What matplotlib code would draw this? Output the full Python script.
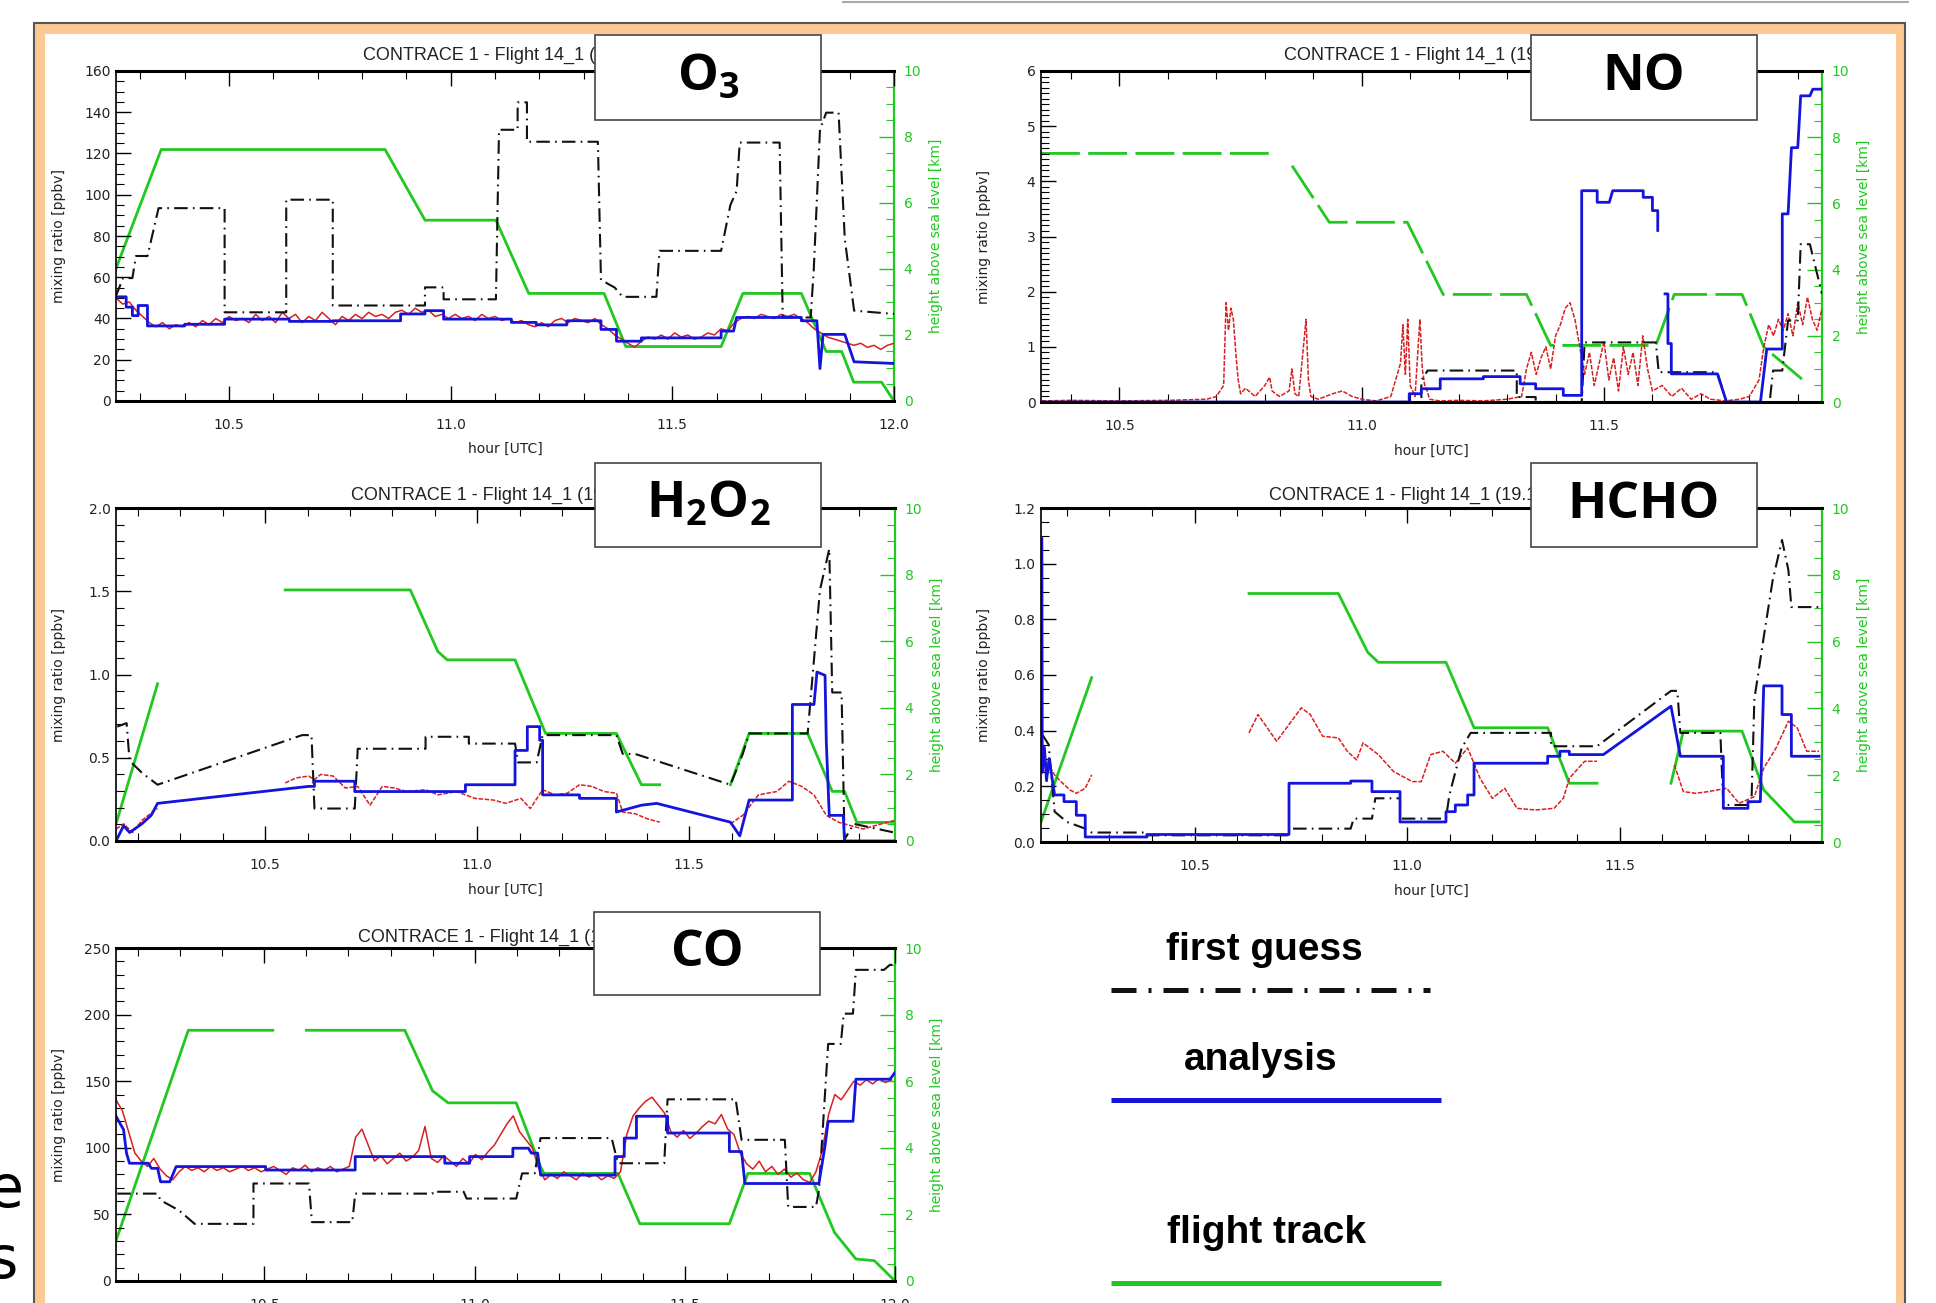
import numpy as np
import matplotlib.pyplot as plt
from matplotlib.lines import Line2D
from matplotlib.patches import Rectangle
from matplotlib.ticker import MultipleLocator, FormatStrFormatter

W, H = 1936, 1303

FG_COLOR = '#111111'
AN_COLOR = '#1414dc'
OBS_COLOR = '#d82020'
TRK_COLOR = '#20c820'

TITLE = 'CONTRACE 1 - Flight 14_1 (19.11.2001)'

# ---------------- O3 ----------------
o3_fg = [(10.244, 50.5), (10.261, 59.6), (10.282, 59.6), (10.29, 70.3), (10.316, 70.3), (10.341, 93.5),
         (10.49, 93.5), (10.49, 43.0), (10.629, 43.0), (10.629, 97.6), (10.734, 97.6), (10.734, 46.3),
         (10.942, 46.3), (10.942, 55.1), (10.984, 55.1), (10.984, 49.3), (11.102, 49.3), (11.109, 131.5),
         (11.151, 131.5), (11.151, 144.8), (11.172, 144.8), (11.172, 125.7), (11.332, 125.7), (11.339, 58.7),
         (11.37, 55.0), (11.388, 50.5), (11.464, 50.5), (11.471, 72.8), (11.61, 72.8), (11.631, 95.1),
         (11.645, 101.8), (11.652, 125.3), (11.742, 125.3), (11.749, 40.5), (11.812, 40.5), (11.819, 63.7),
         (11.833, 131.5), (11.847, 139.8), (11.875, 139.8), (11.889, 78.6), (11.91, 43.8), (12.0, 42.2)]
o3_an = [(10.244, 50.5), (10.268, 50.5), (10.268, 45.5), (10.282, 45.5), (10.282, 41.4), (10.295, 41.4),
         (10.295, 46.3), (10.316, 46.3), (10.316, 36.4), (10.4, 36.4), (10.4, 37.2), (10.49, 37.2),
         (10.49, 39.7), (10.636, 39.7), (10.636, 38.6), (10.734, 38.6), (10.734, 38.9), (10.887, 38.9),
         (10.887, 42.2), (10.942, 42.2), (10.942, 43.8), (10.984, 43.8), (10.984, 39.7), (11.137, 39.7),
         (11.137, 38.1), (11.193, 38.1), (11.193, 36.9), (11.262, 36.9), (11.262, 38.9), (11.339, 38.9),
         (11.339, 34.7), (11.374, 34.7), (11.374, 29.0), (11.43, 29.0), (11.43, 30.6), (11.61, 30.6),
         (11.61, 33.9), (11.638, 33.9), (11.645, 40.5), (11.791, 40.5), (11.791, 38.9), (11.826, 38.9),
         (11.833, 15.7), (11.84, 32.3), (11.889, 32.3), (11.91, 19.0), (12.0, 18.2)]
o3_trk = [(10.244, 3.98), (10.347, 7.62), (10.852, 7.62), (10.942, 5.48), (11.102, 5.48), (11.176, 3.26),
          (11.346, 3.26), (11.395, 1.65), (11.61, 1.65), (11.659, 3.26), (11.791, 3.26), (11.847, 1.5),
          (11.882, 1.5), (11.909, 0.57), (11.972, 0.57), (12.0, 0.0)]
o3_obs_t0, o3_obs_dt = 10.245, 0.015
o3_obs = [50, 47, 48, 44, 41, 38, 36, 38, 35, 37, 36, 38, 36, 39, 37, 40, 38, 41, 39, 40,
          38, 42, 39, 41, 38, 43, 40, 42, 38, 41, 39, 43, 40, 37, 41, 39, 42, 40, 43, 41,
          42, 40, 43, 44, 42, 45, 43, 44, 41, 42, 40, 42, 40, 41, 39, 42, 40, 41, 39, 40,
          38, 39, 37, 36, 38, 36, 39, 40, 38, 40, 39, 38, 40, 37, 35, 32, 30, 28, 26, 29,
          31, 30, 32, 30, 33, 31, 32, 30, 31, 33, 32, 35, 34, 38, 40, 41, 40, 42, 41, 40,
          42, 41, 42, 40, 38, 35, 33, 31, 30, 29, 28, 27, 28, 26, 27, 25, 27, 28]

# ---------------- NO ----------------
no_fg = [(10.338, 0.0), (11.123, 0.0), (11.123, 0.39), (11.136, 0.57), (11.32, 0.57), (11.32, 0.09),
         (11.359, 0.09), (11.359, 0.0), (11.454, 0.0), (11.46, 1.08), (11.607, 1.08), (11.613, 0.54),
         (11.734, 0.54), (11.753, 0.0), (11.842, 0.0), (11.849, 0.57), (11.868, 0.57), (11.88, 1.48),
         (11.9, 1.48), (11.906, 2.86), (11.925, 2.86), (11.95, 1.96)]
no_an = [(10.338, 0.0), (11.098, 0.0), (11.098, 0.15), (11.123, 0.15), (11.123, 0.24), (11.162, 0.24),
         (11.162, 0.42), (11.251, 0.42), (11.251, 0.46), (11.327, 0.46), (11.327, 0.33), (11.359, 0.33),
         (11.359, 0.24), (11.416, 0.24), (11.416, 0.12), (11.454, 0.12), (11.454, 3.83), (11.486, 3.83),
         (11.486, 3.62), (11.511, 3.62), (11.518, 3.83), (11.581, 3.83), (11.581, 3.71), (11.6, 3.71),
         (11.6, 3.47), (11.611, 3.47), (11.611, 3.11), None, (11.626, 1.96), (11.632, 1.96),
         (11.632, 1.06), (11.639, 1.06), (11.639, 0.51), (11.734, 0.51), (11.753, 0.0), (11.823, 0.0),
         (11.836, 0.96), (11.868, 0.96), (11.868, 3.41), (11.88, 3.41), (11.887, 4.61), (11.9, 4.61),
         (11.906, 5.55), (11.925, 5.55), (11.931, 5.67), (11.95, 5.67)]
no_trk = [(10.338, 7.51), (10.824, 7.51), None, (10.856, 7.14), (10.933, 5.43), (11.094, 5.43),
          (11.168, 3.25), (11.34, 3.25), (11.39, 1.71), (11.607, 1.71), (11.645, 3.25), (11.785, 3.25),
          (11.83, 1.66), (11.912, 0.65)]
no_obs = [(10.34, 0.02), (10.40, 0.03), (10.50, 0.02), (10.60, 0.03), (10.68, 0.05), (10.70, 0.1),
          (10.715, 0.3), (10.72, 1.8), (10.725, 1.3), (10.73, 1.7), (10.735, 1.5), (10.74, 0.9),
          (10.745, 0.4), (10.75, 0.15), (10.76, 0.25), (10.78, 0.1), (10.80, 0.3), (10.81, 0.45),
          (10.815, 0.2), (10.83, 0.1), (10.85, 0.2), (10.856, 0.6), (10.862, 0.15), (10.87, 0.1),
          (10.885, 1.5), (10.89, 0.4), (10.895, 0.1), (10.91, 0.05), (10.94, 0.15), (10.96, 0.2),
          (10.98, 0.1), (11.0, 0.05), (11.03, 0.02), (11.06, 0.1), (11.08, 0.7), (11.085, 1.4),
          (11.09, 0.5), (11.095, 1.5), (11.10, 0.3), (11.11, 0.1), (11.12, 1.5), (11.125, 0.6),
          (11.13, 0.3), (11.135, 0.2), (11.14, 0.05), (11.16, 0.02), (11.2, 0.03), (11.25, 0.02),
          (11.3, 0.05), (11.33, 0.1), (11.34, 0.6), (11.35, 0.9), (11.355, 0.7), (11.36, 0.5),
          (11.37, 0.8), (11.38, 1.0), (11.39, 0.6), (11.40, 1.2), (11.41, 1.4), (11.42, 1.7),
          (11.43, 1.8), (11.44, 1.5), (11.45, 1.0), (11.46, 0.5), (11.47, 0.9), (11.48, 0.3),
          (11.49, 0.7), (11.50, 1.1), (11.51, 0.4), (11.52, 0.8), (11.53, 0.2), (11.54, 1.0),
          (11.55, 0.5), (11.56, 0.9), (11.57, 0.3), (11.58, 1.2), (11.59, 0.6), (11.60, 0.2),
          (11.62, 0.3), (11.64, 0.1), (11.66, 0.25), (11.68, 0.05), (11.70, 0.15), (11.72, 0.05),
          (11.75, 0.02), (11.78, 0.05), (11.80, 0.1), (11.82, 0.4), (11.83, 1.0), (11.84, 1.4),
          (11.85, 1.2), (11.86, 1.5), (11.87, 1.3), (11.88, 1.6), (11.89, 1.2), (11.90, 1.8),
          (11.91, 1.4), (11.92, 1.9), (11.93, 1.5), (11.94, 1.3), (11.95, 1.7)]

# ---------------- H2O2 ----------------
h2o2_fg = [(10.151, 0.687), (10.173, 0.708), (10.18, 0.482), (10.209, 0.41), (10.246, 0.338),
           (10.587, 0.636), (10.609, 0.636), (10.616, 0.195), (10.711, 0.195), (10.718, 0.554),
           (10.878, 0.554), (10.878, 0.626), (10.98, 0.626), (10.98, 0.585), (11.089, 0.585),
           (11.096, 0.472), (11.14, 0.472), (11.154, 0.636), (11.328, 0.636), (11.343, 0.523),
           (11.372, 0.523), (11.597, 0.338), (11.626, 0.523), (11.641, 0.646), (11.779, 0.646),
           (11.808, 1.507), (11.83, 1.754), (11.837, 0.892), (11.859, 0.892), (11.866, 0.01),
           (11.888, 0.103), (11.983, 0.051)]
h2o2_an = [(10.148, 0.0), (10.166, 0.092), (10.18, 0.051), (10.209, 0.103), (10.231, 0.154),
           (10.246, 0.226), (10.602, 0.328), (10.616, 0.328), (10.616, 0.359), (10.711, 0.359),
           (10.711, 0.297), (10.972, 0.297), (10.972, 0.338), (11.089, 0.338), (11.089, 0.544),
           (11.118, 0.544), (11.118, 0.687), (11.147, 0.687), (11.147, 0.605), (11.154, 0.605),
           (11.154, 0.277), (11.241, 0.277), (11.241, 0.256), (11.328, 0.256), (11.328, 0.174),
           (11.387, 0.215), (11.423, 0.226), (11.597, 0.113), (11.619, 0.031), (11.641, 0.246),
           (11.743, 0.246), (11.743, 0.82), (11.794, 0.82), (11.801, 1.015), (11.82, 0.995),
           (11.823, 0.595), (11.83, 0.154), (11.863, 0.154), (11.866, 0.0), (11.983, 0.0)]
h2o2_trk = [(10.148, 0.51), (10.246, 4.72), None, (10.547, 7.54), (10.842, 7.54), (10.907, 5.69),
            (10.929, 5.44), (11.089, 5.44), (11.161, 3.23), (11.328, 3.23), (11.387, 1.69),
            (11.43, 1.69), None, (11.597, 1.69), (11.641, 3.23), (11.779, 3.23), (11.837, 1.49),
            (11.866, 1.49), (11.895, 0.56), (11.983, 0.56)]
h2o2_obs = [(10.148, 0.072), (10.166, 0.103), (10.187, 0.051), (10.209, 0.123), (10.224, 0.154),
            (10.246, 0.195), None, (10.547, 0.349), (10.573, 0.379), (10.602, 0.39), (10.616, 0.369),
            (10.631, 0.40), (10.66, 0.39), (10.689, 0.318), (10.718, 0.328), (10.747, 0.215),
            (10.776, 0.328), (10.805, 0.318), (10.834, 0.297), (10.878, 0.308), (10.907, 0.277),
            (10.951, 0.297), (10.994, 0.256), (11.038, 0.246), (11.067, 0.226), (11.103, 0.256),
            (11.125, 0.195), (11.154, 0.308), (11.183, 0.277), (11.212, 0.287), (11.241, 0.338),
            (11.27, 0.328), (11.299, 0.297), (11.328, 0.287), (11.343, 0.174), (11.372, 0.164),
            (11.401, 0.133), (11.43, 0.113), None, (11.597, 0.103), (11.626, 0.154), (11.663, 0.277),
            (11.706, 0.297), (11.735, 0.359), (11.765, 0.328), (11.794, 0.277), (11.823, 0.154),
            (11.852, 0.113), (11.881, 0.092), (11.91, 0.072), (11.953, 0.103), (11.983, 0.123)]

# ---------------- HCHO ----------------
hcho_fg = [(10.142, 0.386), (10.157, 0.35), (10.171, 0.109), (10.2, 0.072), (10.243, 0.048),
           (10.258, 0.034), (10.388, 0.034), (10.388, 0.024), (10.722, 0.024), (10.722, 0.048),
           (10.867, 0.048), (10.874, 0.084), (10.917, 0.084), (10.925, 0.157), (10.983, 0.157),
           (10.983, 0.084), (11.091, 0.084), (11.099, 0.169), (11.128, 0.338), (11.149, 0.392),
           (11.338, 0.392), (11.338, 0.344), (11.446, 0.344), (11.62, 0.543), (11.635, 0.543),
           (11.642, 0.392), (11.736, 0.392), (11.743, 0.133), (11.809, 0.133), (11.816, 0.513),
           (11.838, 0.736), (11.859, 0.94), (11.881, 1.085), (11.896, 0.977), (11.903, 0.844),
           (11.968, 0.844)]
hcho_an = [(10.141, 1.09), (10.142, 0.25), (10.147, 0.34), (10.152, 0.22), (10.158, 0.30),
           (10.171, 0.169), (10.193, 0.169), (10.193, 0.145), (10.222, 0.145), (10.222, 0.096),
           (10.243, 0.096), (10.243, 0.018), (10.388, 0.018), (10.388, 0.027), (10.722, 0.027),
           (10.722, 0.211), (10.867, 0.211), (10.867, 0.219), (10.917, 0.219), (10.917, 0.181),
           (10.983, 0.181), (10.983, 0.072), (11.091, 0.072), (11.091, 0.109), (11.113, 0.109),
           (11.113, 0.133), (11.142, 0.133), (11.142, 0.169), (11.157, 0.169), (11.157, 0.283),
           (11.33, 0.283), (11.33, 0.308), (11.359, 0.308), (11.359, 0.326), (11.381, 0.326),
           (11.381, 0.314), (11.461, 0.314), (11.62, 0.488), (11.642, 0.308), (11.743, 0.308),
           (11.743, 0.121), (11.801, 0.121), (11.801, 0.145), (11.83, 0.145), (11.838, 0.561),
           (11.881, 0.561), (11.881, 0.458), (11.903, 0.458), (11.903, 0.308), (11.968, 0.308)]
hcho_trk = [(10.139, 0.6), (10.258, 4.92), None, (10.628, 7.44), (10.838, 7.44), (10.907, 5.68),
            (10.932, 5.38), (11.091, 5.38), (11.157, 3.42), (11.33, 3.42), (11.381, 1.76),
            (11.446, 1.76), None, (11.62, 1.76), (11.649, 3.32), (11.787, 3.32), (11.838, 1.56),
            (11.91, 0.6), (11.968, 0.6)]
hcho_obs = [(10.139, 0.30), (10.157, 0.277), (10.171, 0.241), (10.186, 0.217), (10.207, 0.187),
            (10.222, 0.175), (10.243, 0.193), (10.258, 0.241), None, (10.628, 0.392), (10.649, 0.458),
            (10.671, 0.41), (10.693, 0.362), (10.722, 0.422), (10.751, 0.482), (10.772, 0.458),
            (10.801, 0.38), (10.838, 0.374), (10.859, 0.326), (10.881, 0.295), (10.896, 0.356),
            (10.932, 0.314), (10.968, 0.253), (11.012, 0.217), (11.033, 0.217), (11.055, 0.314),
            (11.084, 0.326), (11.113, 0.283), (11.142, 0.338), (11.171, 0.229), (11.2, 0.157),
            (11.229, 0.193), (11.258, 0.121), (11.301, 0.115), (11.345, 0.121), (11.367, 0.157),
            (11.381, 0.229), (11.417, 0.29), (11.446, 0.29), None, (11.628, 0.277), (11.649, 0.181),
            (11.678, 0.175), (11.707, 0.181), (11.751, 0.193), (11.78, 0.139), (11.816, 0.163),
            (11.838, 0.265), (11.867, 0.338), (11.896, 0.434), (11.917, 0.41), (11.939, 0.326),
            (11.968, 0.326)]

# ---------------- CO ----------------
co_fg = [(10.15, 65.6), (10.246, 65.6), (10.253, 60.6), (10.297, 53.0), (10.334, 42.9), (10.474, 42.9),
         (10.474, 73.2), (10.606, 73.2), (10.613, 44.2), (10.709, 44.2), (10.716, 65.6), (10.9, 65.6),
         (10.9, 67.0), (10.974, 67.0), (10.981, 61.9), (11.099, 61.9), (11.113, 80.8), (11.143, 80.8),
         (11.157, 107.3), (11.326, 107.3), (11.341, 88.4), (11.451, 88.4), (11.459, 136.4),
         (11.621, 136.4), (11.635, 106.0), (11.738, 106.0), (11.746, 55.6), (11.812, 55.6),
         (11.819, 68.2), (11.841, 178.0), (11.871, 178.0), (11.878, 200.7), (11.9, 200.7),
         (11.907, 233.6), (11.974, 233.6), (11.988, 237.4), (12.0, 237.4)]
co_an = [(10.147, 123.7), (10.165, 113.6), (10.172, 96.0), (10.179, 88.4), (10.224, 88.4), (10.231, 84.6),
         (10.246, 84.6), (10.253, 74.5), (10.275, 74.5), (10.29, 85.9), (10.503, 85.9), (10.503, 83.3),
         (10.716, 83.3), (10.716, 93.4), (10.929, 93.4), (10.929, 88.4), (10.988, 88.4), (10.988, 93.4),
         (11.091, 93.4), (11.091, 99.7), (11.128, 99.7), (11.135, 96.0), (11.15, 96.0), (11.157, 79.5),
         (11.334, 79.5), (11.334, 93.4), (11.356, 93.4), (11.356, 107.3), (11.385, 107.3),
         (11.385, 123.7), (11.459, 123.7), (11.459, 111.1), (11.606, 111.1), (11.606, 97.2),
         (11.635, 97.2), (11.643, 73.2), (11.819, 73.2), (11.834, 102.3), (11.841, 119.9),
         (11.9, 119.9), (11.907, 151.5), (11.988, 151.5), (12.0, 156.5)]
co_trk = [(10.147, 1.21), (10.319, 7.53), (10.52, 7.53), None, (10.56, 7.53), None, (10.60, 7.53),
          (10.834, 7.53), (10.9, 5.71), (10.937, 5.35), (11.099, 5.35), (11.157, 3.43), (11.165, 3.23),
          (11.341, 3.23), (11.393, 1.72), (11.606, 1.72), (11.65, 3.23), (11.797, 3.23), (11.856, 1.46),
          (11.907, 0.66), (11.951, 0.61), (12.0, 0.0)]
co_obs_t0, co_obs_dt = 10.147, 0.015
co_obs = [136, 128, 112, 96, 90, 86, 92, 84, 79, 76, 82, 86, 83, 85, 82, 86, 83, 85, 82, 84,
          86, 83, 85, 82, 84, 86, 83, 80, 85, 83, 87, 82, 85, 83, 86, 82, 84, 86, 108, 114,
          102, 90, 94, 88, 92, 96, 90, 93, 98, 116, 92, 89, 94, 90, 86, 92, 88, 95, 91, 97,
          102, 110, 118, 124, 112, 106, 100, 85, 76, 80, 77, 82, 79, 76, 81, 78, 80, 76, 79, 77,
          82, 110, 124, 130, 135, 138, 132, 126, 112, 108, 113, 107, 111, 116, 120, 118, 125, 114, 110, 96,
          88, 84, 90, 82, 86, 80, 84, 78, 81, 76, 74, 82, 98, 125, 140, 136, 143, 150, 147, 151,
          148, 152, 149, 151]


def split(pairs):
    t = np.array([np.nan if p is None else p[0] for p in pairs], float)
    v = np.array([np.nan if p is None else p[1] for p in pairs], float)
    return t, v


def frect(l, t, r, b):
    return [l / W, 1 - b / H, (r - l) / W, (b - t) / H]


fig = plt.figure(figsize=(W / 100, H / 100), dpi=100)
fig.patch.set_facecolor('white')

# slide frame
frame = Rectangle((34 / W, -0.05), (1905 - 34) / W, 1.05 - 23 / H, transform=fig.transFigure,
                  facecolor='#fcc894', edgecolor='#555555', lw=1.5, zorder=-3)
inner = Rectangle((45 / W, -0.05), (1896 - 45) / W, 1.05 - 34 / H, transform=fig.transFigure,
                  facecolor='white', edgecolor='none', zorder=-2)
fig.add_artist(frame)
fig.add_artist(inner)
fig.add_artist(Line2D([843 / W, 1908 / W], [1 - 2 / H, 1 - 2 / H], color='#aaaaaa', lw=1.5,
                      transform=fig.transFigure))
fig.text(-12 / W, 1 - 1207 / H, 'e', fontsize=42, color='black', ha='left', va='baseline')
fig.text(-12 / W, 1 - 1278 / H, 's', fontsize=42, color='black', ha='left', va='baseline')


def panel(rect, fg, an, obs_t, obs_v, trk, xlim, ylim, ymaj, ymin, yfmt,
          obs_ls='-', trk_ls='-', title_xy=(0, 0), label='', box=(0, 0, 0, 0)):
    ax = fig.add_axes(rect)
    ax2 = ax.twinx()
    ax.set_zorder(ax2.get_zorder() + 1)
    ax.patch.set_visible(False)

    t, v = split(trk)
    ax2.plot(t, v, color=TRK_COLOR, lw=2.0, ls=trk_ls)
    ax.plot(obs_t, obs_v, color=OBS_COLOR, lw=1.1, ls=obs_ls)
    t, v = split(fg)
    ax.plot(t, v, color=FG_COLOR, lw=1.5, ls=(0, (6.5, 2.5, 0.8, 2.5)))
    t, v = split(an)
    ax.plot(t, v, color=AN_COLOR, lw=2.0)

    ax.set_xlim(*xlim)
    ax.set_ylim(*ylim)
    ax2.set_ylim(0, 10)

    ax.xaxis.set_major_locator(MultipleLocator(0.5))
    ax.xaxis.set_minor_locator(MultipleLocator(0.1))
    ax.xaxis.set_major_formatter(FormatStrFormatter('%.1f'))
    ax.yaxis.set_major_locator(MultipleLocator(ymaj))
    ax.yaxis.set_minor_locator(MultipleLocator(ymin))
    ax.yaxis.set_major_formatter(FormatStrFormatter(yfmt))
    ax2.yaxis.set_major_locator(MultipleLocator(2))
    ax2.yaxis.set_minor_locator(MultipleLocator(0.5))

    ax.tick_params(which='both', direction='in', top=True, right=False,
                   labelsize=10, labelcolor='#222222')
    ax.tick_params(which='major', length=11, width=1.0)
    ax.tick_params(which='minor', length=5.5, width=0.8)
    ax.tick_params(axis='x', pad=12)
    ax.tick_params(axis='y', pad=4)
    ax2.tick_params(which='both', direction='in', colors=TRK_COLOR, labelsize=10, pad=7)
    ax2.tick_params(which='major', length=11, width=1.0)
    ax2.tick_params(which='minor', length=5.5, width=0.8)

    ax.spines['top'].set_linewidth(2.2)
    ax.spines['bottom'].set_linewidth(2.2)
    ax.spines['left'].set_linewidth(1.2)
    ax.spines['right'].set_visible(False)
    for s in ('top', 'bottom', 'left'):
        ax2.spines[s].set_visible(False)
    ax2.spines['right'].set_color(TRK_COLOR)
    ax2.spines['right'].set_linewidth(1.6)

    ax.set_xlabel('hour [UTC]', fontsize=10, color='#222222')
    ax.xaxis.set_label_coords(0.5, -0.125)
    ax.set_ylabel('mixing ratio [ppbv]', fontsize=10, color='#222222')
    ax.yaxis.set_label_coords(-0.064, 0.5)
    ax2.set_ylabel('height above sea level [km]', fontsize=10, color=TRK_COLOR)
    ax2.yaxis.set_label_coords(1.045, 0.5)

    fig.text(title_xy[0] / W, 1 - title_xy[1] / H, TITLE, family='Liberation Sans',
             fontsize=13, color='#222222', ha='left', va='baseline')
    l, t_, r, b = box
    fig.add_artist(Rectangle((l / W, 1 - b / H), (r - l) / W, (b - t_) / H, transform=fig.transFigure,
                             facecolor='white', edgecolor='#444444', lw=1.2, zorder=5))
    fig.text((l + r) / 2 / W, 1 - (t_ + b) / 2 / H, label, family='Open Sans', fontweight='bold',
             fontsize=37, color='black', ha='center', va='center', zorder=6)
    return ax


o3_t = o3_obs_t0 + o3_obs_dt * np.arange(len(o3_obs))
co_t = co_obs_t0 + co_obs_dt * np.arange(len(co_obs))
no_t, no_v = split(no_obs)
h2o2_t, h2o2_v = split(h2o2_obs)
hcho_t, hcho_v = split(hcho_obs)

panel(frect(116, 71, 894, 401), o3_fg, o3_an, o3_t, o3_obs, o3_trk, (10.245, 12.0), (0, 160), 20, 5, '%d',
      title_xy=(363, 60), label=r'O$\mathregular{_3}$', box=(595, 35, 821, 120))
panel(frect(1041, 71, 1822, 402), no_fg, no_an, no_t, no_v, no_trk, (10.338, 11.95), (0, 6), 1, 0.1, '%d',
      obs_ls=(0, (3, 1)), trk_ls=(0, (14, 3)),
      title_xy=(1284, 60), label='NO', box=(1531, 35, 1757, 120))
panel(frect(116, 508, 895, 841), h2o2_fg, h2o2_an, h2o2_t, h2o2_v, h2o2_trk, (10.148, 11.985), (0, 2),
      0.5, 0.1, '%.1f', obs_ls=(0, (3, 1)),
      title_xy=(351, 500), label=r'H$\mathregular{_2}$O$\mathregular{_2}$', box=(595, 463, 821, 547))
panel(frect(1041, 508, 1822, 842), hcho_fg, hcho_an, hcho_t, hcho_v, hcho_trk, (10.139, 11.975), (0, 1.2),
      0.2, 0.05, '%.1f', obs_ls=(0, (3, 1)),
      title_xy=(1269, 500), label='HCHO', box=(1531, 463, 1757, 547))
panel(frect(116, 948, 895, 1281), co_fg, co_an, co_t, co_obs, co_trk, (10.147, 12.0), (0, 250), 50, 10, '%d',
      title_xy=(358, 942), label='CO', box=(594, 912, 820, 995))

# legend
leg_font = dict(family='Liberation Sans', fontweight='bold', fontsize=28, color='black',
                ha='center', va='center')
fig.text(1264 / W, 1 - 950 / H, 'first guess', **leg_font)
fig.text(1261 / W, 1 - 1060 / H, 'analysis', **leg_font)
fig.text(1267 / W, 1 - 1233 / H, 'flight track', **leg_font)
fig.add_artist(Line2D([1111 / W, 1430 / W], [1 - 990 / H] * 2, color=FG_COLOR, lw=3.6,
                      ls=(0, (5, 2.4, 0.6, 2.4)), transform=fig.transFigure))
fig.add_artist(Line2D([1111 / W, 1441 / W], [1 - 1100 / H] * 2, color=AN_COLOR, lw=3.6,
                      solid_capstyle='butt', transform=fig.transFigure))
fig.add_artist(Line2D([1111 / W, 1441 / W], [1 - 1283 / H] * 2, color=TRK_COLOR, lw=3.6,
                      solid_capstyle='butt', transform=fig.transFigure))

fig.savefig('out.png', dpi=100)
